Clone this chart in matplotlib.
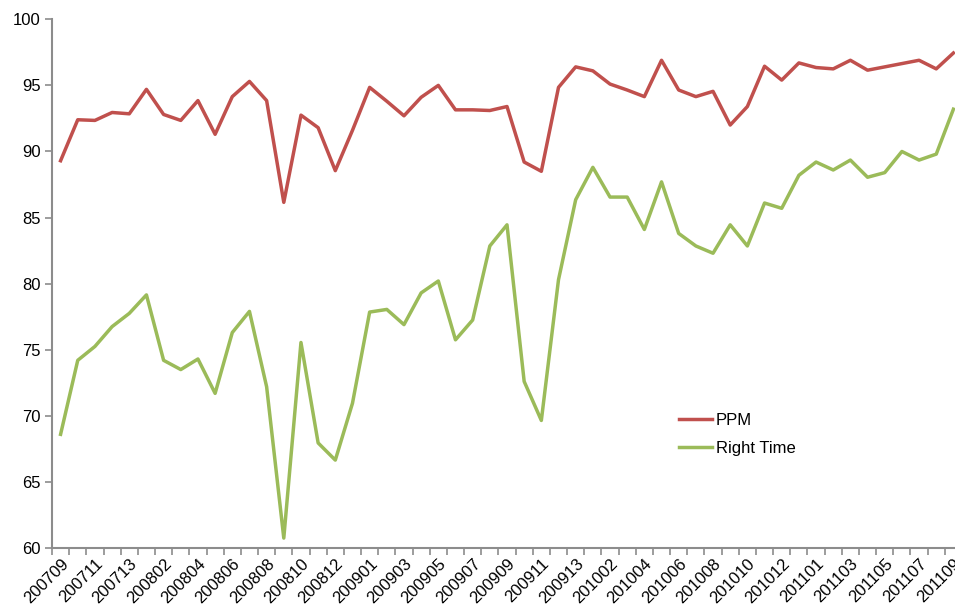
import matplotlib
matplotlib.use("Agg")
import matplotlib.pyplot as plt
import numpy as np

# Rail periods (year + 4-week period), every other one gets a label
periods = (
    [f"2007{p:02d}" for p in range(9, 14)]
    + [f"2008{p:02d}" for p in range(1, 14)]
    + [f"2009{p:02d}" for p in range(1, 14)]
    + [f"2010{p:02d}" for p in range(1, 14)]
    + [f"2011{p:02d}" for p in range(1, 10)]
)

ppm = [
    89.3, 92.4, 92.35, 92.95, 92.85, 94.7, 92.8, 92.35, 93.85, 91.3,
    94.15, 95.3, 93.85, 86.15, 92.75, 91.8, 88.55, 91.6, 94.85, 93.8,
    92.7, 94.1, 95.0, 93.15, 93.15, 93.1, 93.4, 89.2, 88.5, 94.85,
    96.4, 96.1, 95.1, 94.65, 94.15, 96.9, 94.65, 94.15, 94.55, 92.0,
    93.4, 96.45, 95.4, 96.7, 96.35, 96.25, 96.9, 96.15, 96.4, 96.65,
    96.9, 96.25, 97.45,
]

right_time = [
    68.6, 74.2, 75.25, 76.75, 77.75, 79.15, 74.2, 73.5, 74.3, 71.7,
    76.3, 77.9, 72.2, 60.75, 75.55, 67.95, 66.65, 70.95, 77.85, 78.05,
    76.9, 79.3, 80.2, 75.75, 77.25, 82.85, 84.45, 72.6, 69.65, 80.3,
    86.35, 88.8, 86.55, 86.55, 84.1, 87.7, 83.8, 82.85, 82.3, 84.45,
    82.85, 86.1, 85.7, 88.2, 89.2, 88.6, 89.35, 88.05, 88.4, 90.0,
    89.35, 89.8, 93.2,
]

red = "#C0504D"
green = "#9BBB59"
axis_grey = "#8C8C8C"

plt.rcParams["font.family"] = ["Liberation Sans", "DejaVu Sans"]
plt.rcParams["font.size"] = 12

W, H = 955, 612
fig = plt.figure(figsize=(W / 100, H / 100), dpi=100)
ax = fig.add_axes([52 / W, (H - 548) / H, (962 - 52) / W, (548 - 19.3) / H])

x = np.arange(len(periods))
ax.plot(x, ppm, color=red, linewidth=2.5, label="PPM")
ax.plot(x, right_time, color=green, linewidth=2.5, label="Right Time")

ax.set_xlim(-0.5, len(periods) - 0.5)
ax.set_ylim(60, 100)
ax.set_yticks(np.arange(60, 101, 5))

# labels on every other period, tick marks on the category borders
ax.set_xticks(x[::2])
ax.set_xticklabels(periods[::2], rotation=45, ha="right", va="top",
                   rotation_mode="anchor")
ax.set_xticks(np.arange(-0.5, len(periods)), minor=True)
ax.tick_params(axis="x", which="major", length=0, pad=6)
ax.tick_params(axis="x", which="minor", length=5, width=1.2, color=axis_grey)
ax.tick_params(axis="y", length=5, width=1.2, color=axis_grey, pad=3)

for side in ["top", "right"]:
    ax.spines[side].set_visible(False)
for side in ["left", "bottom"]:
    ax.spines[side].set_color(axis_grey)
    ax.spines[side].set_linewidth(1.5)

ax.legend(loc="upper left", bbox_to_anchor=(664 / W, (H - 398) / H),
          bbox_transform=fig.transFigure, frameon=False, handlelength=2.0,
          handletextpad=0.2, labelspacing=0.75, fontsize=12)

fig.savefig("out.png", dpi=100, facecolor="white")
